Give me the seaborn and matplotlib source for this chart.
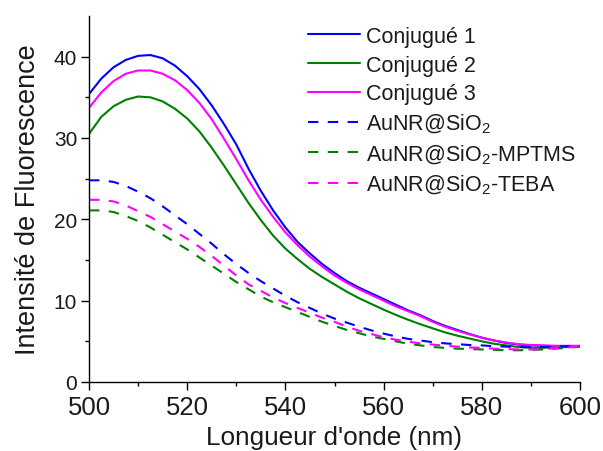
import matplotlib
matplotlib.use("Agg")
import matplotlib.pyplot as plt
import seaborn as sns
import pandas as pd

wavelength = [500, 502.5, 505, 507.5, 510, 512.5, 515, 517.5, 520, 522.5, 525, 527.5,
              530, 532.5, 535, 537.5, 540, 542.5, 545, 547.5, 550, 552.5, 555, 557.5,
              560, 562.5, 565, 567.5, 570, 572.5, 575, 577.5, 580, 582.5, 585, 587.5,
              590, 592.5, 595, 597.5, 600]

conj1 = [35.4, 37.3, 38.7, 39.6, 40.1, 40.2, 39.8, 38.9, 37.6, 36.0, 34.0, 31.7,
         29.2, 26.2, 23.5, 21.1, 19.0, 17.2, 15.8, 14.5, 13.4, 12.4, 11.6, 10.9,
         10.2, 9.5, 8.8, 8.2, 7.5, 6.9, 6.4, 5.9, 5.45, 5.1, 4.8, 4.6,
         4.5, 4.45, 4.4, 4.4, 4.4]
conj2 = [30.5, 32.6, 33.9, 34.7, 35.1, 35.0, 34.5, 33.6, 32.4, 30.8, 28.8, 26.6,
         24.3, 22.0, 19.9, 18.0, 16.4, 15.1, 13.9, 12.9, 12.0, 11.1, 10.3, 9.6,
         8.9, 8.25, 7.65, 7.1, 6.6, 6.1, 5.7, 5.35, 5.0, 4.7, 4.5, 4.3,
         4.2, 4.2, 4.25, 4.3, 4.4]
conj3 = [33.7, 35.6, 37.0, 37.9, 38.3, 38.3, 37.9, 37.1, 35.9, 34.3, 32.3, 29.9,
         27.4, 24.8, 22.4, 20.3, 18.4, 16.8, 15.4, 14.2, 13.1, 12.2, 11.4, 10.7,
         10.0, 9.3, 8.7, 8.1, 7.4, 6.8, 6.3, 5.85, 5.45, 5.1, 4.85, 4.65,
         4.55, 4.5, 4.45, 4.45, 4.45]
aunr = [24.8, 24.8, 24.6, 24.1, 23.4, 22.6, 21.6, 20.5, 19.4, 18.2, 17.0, 15.7,
        14.5, 13.4, 12.4, 11.5, 10.6, 9.8, 9.1, 8.4, 7.8, 7.3, 6.8, 6.35,
        5.95, 5.6, 5.3, 5.1, 4.9, 4.75, 4.65, 4.55, 4.5, 4.4, 4.35, 4.3,
        4.3, 4.3, 4.35, 4.4, 4.45]
aunr_mptms = [21.1, 21.1, 20.9, 20.4, 19.8, 19.0, 18.1, 17.2, 16.3, 15.3, 14.3, 13.3,
              12.3, 11.4, 10.5, 9.8, 9.2, 8.6, 8.0, 7.4, 6.9, 6.4, 6.0, 5.6,
              5.3, 5.0, 4.7, 4.5, 4.3, 4.2, 4.1, 4.05, 4.0, 3.95, 3.9, 3.9,
              3.95, 4.0, 4.1, 4.2, 4.35]
aunr_teba = [22.4, 22.4, 22.2, 21.7, 21.0, 20.3, 19.4, 18.5, 17.6, 16.6, 15.5, 14.3,
             13.1, 12.0, 11.2, 10.4, 9.7, 9.1, 8.5, 7.9, 7.4, 6.8, 6.3, 5.9,
             5.5, 5.2, 4.95, 4.75, 4.6, 4.45, 4.35, 4.25, 4.2, 4.1, 4.05, 4.0,
             4.0, 4.05, 4.15, 4.25, 4.4]

labels = ["Conjugué 1", "Conjugué 2", "Conjugué 3",
          "AuNR@SiO$_2$", "AuNR@SiO$_2$-MPTMS", "AuNR@SiO$_2$-TEBA"]
series = [conj1, conj2, conj3, aunr, aunr_mptms, aunr_teba]
colors = ["#0000FF", "#008000", "#FF00FF", "#0000FF", "#008000", "#FF00FF"]
dashed = [False, False, False, True, True, True]

xticks = [500, 520, 540, 560, 580, 600]
yticks = [0, 10, 20, 30, 40]

sns.set_style("ticks")
plt.rcParams["font.family"] = ["Liberation Sans", "DejaVu Sans"]
plt.rcParams["mathtext.default"] = "regular"

fig = plt.figure(figsize=(6.03, 4.52), dpi=100)
ax = fig.add_axes([89/603, 69/452, (580-89)/603, (383-17)/452])

for lab, ys, c, d in zip(labels, series, colors, dashed):
    df = pd.DataFrame({"x": wavelength, "y": ys})
    kw = dict(linestyle=(0, (5, 4.5))) if d else {}
    sns.lineplot(data=df, x="x", y="y", ax=ax, color=c, linewidth=1.5,
                 label=lab, **kw)

ax.set_xlim(500, 600)
ax.set_ylim(0, 45)
ax.set_xticks(xticks)
ax.set_yticks(yticks)
ax.set_xticks([510, 530, 550, 570, 590], minor=True)
ax.set_yticks([5, 15, 25, 35], minor=True)
for s in ["top", "right"]:
    ax.spines[s].set_visible(False)
for s in ["left", "bottom"]:
    ax.spines[s].set_linewidth(1.0)
    ax.spines[s].set_color("black")
ax.tick_params(axis="both", which="major", direction="out", length=5.5, width=1.0,
               color="black", labelcolor="#1a1a1a")
ax.tick_params(axis="both", which="minor", direction="out", length=3, width=1.0,
               color="black")
ax.tick_params(axis="x", which="major", labelsize=18.5, pad=4)
ax.tick_params(axis="y", which="major", labelsize=15, pad=3)

ax.set_xlabel("Longueur d'onde (nm)", fontsize=18.8, color="#1a1a1a", labelpad=4.5)
ax.set_ylabel("Intensité de Fluorescence", fontsize=19.5, color="#1a1a1a", labelpad=9)

leg = ax.legend(loc="upper left", bbox_to_anchor=(308/603, 1 - 27/452),
                bbox_transform=fig.transFigure, frameon=False, fontsize=15.5,
                handlelength=2.4, handletextpad=0.3, labelspacing=0.35,
                borderpad=0, borderaxespad=0)
for t in leg.get_texts():
    t.set_color("#1a1a1a")

fig.savefig("out.png", dpi=100)
